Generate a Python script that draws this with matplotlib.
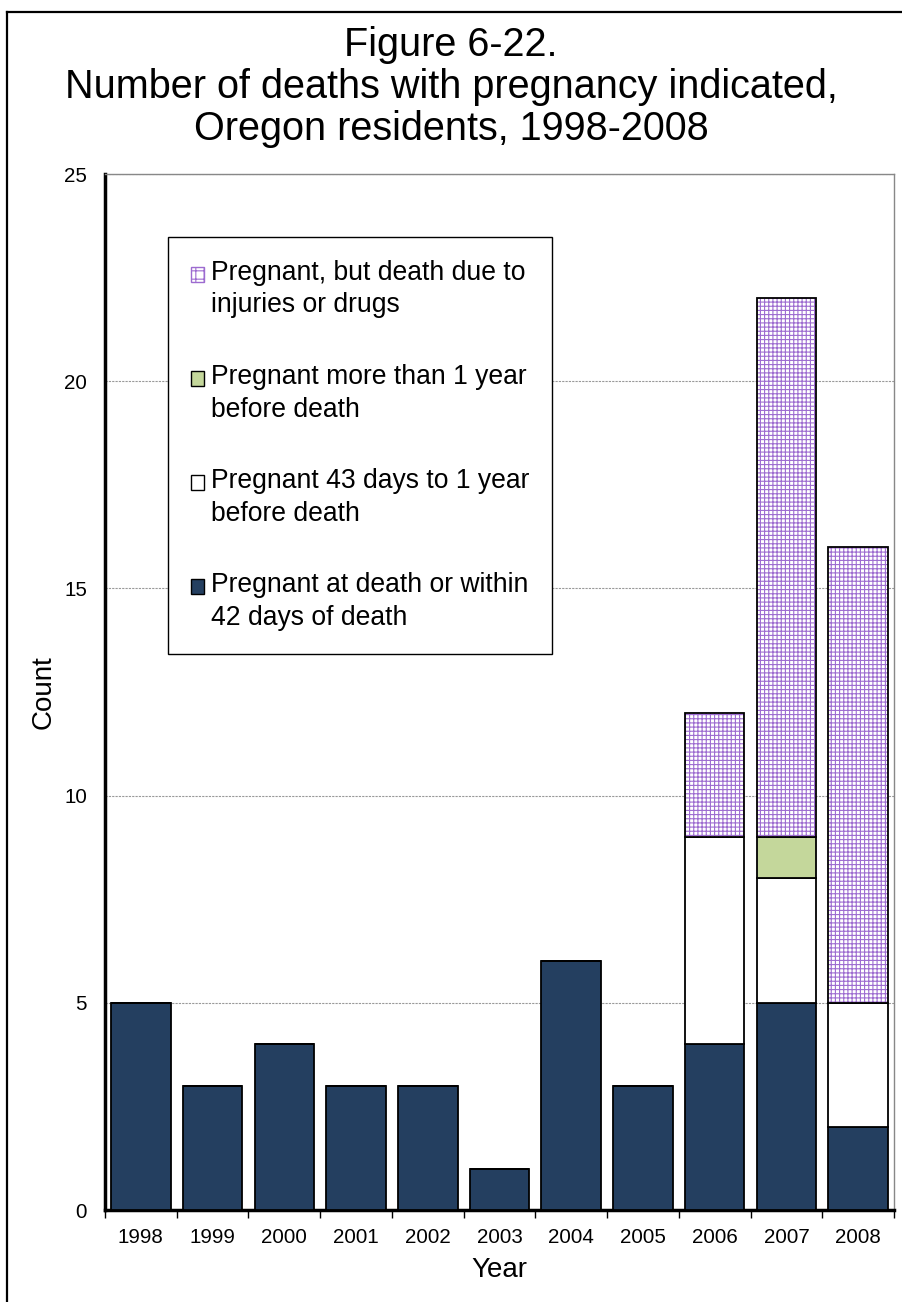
import numpy as np
import matplotlib.pyplot as plt
from matplotlib.patches import Patch, Rectangle
from matplotlib.lines import Line2D
from matplotlib.legend_handler import HandlerPatch

plt.rcParams.update(
    {
        "font.family": ["Liberation Sans", "DejaVu Sans"],
        "hatch.linewidth": 0.8,
    }
)

years = ["1998", "1999", "2000", "2001", "2002", "2003", "2004", "2005", "2006", "2007", "2008"]
within_42_days = [5, 3, 4, 3, 3, 1, 6, 3, 4, 5, 2]
days_43_to_1yr = [0, 0, 0, 0, 0, 0, 0, 0, 5, 3, 3]
more_than_1yr = [0, 0, 0, 0, 0, 0, 0, 0, 0, 1, 0]
injuries_drugs = [0, 0, 0, 0, 0, 0, 0, 0, 3, 13, 11]

labels = [
    "Pregnant at death or within\n42 days of death",
    "Pregnant 43 days to 1 year\nbefore death",
    "Pregnant more than 1 year\nbefore death",
    "Pregnant, but death due to\ninjuries or drugs",
]

navy = "#243F60"
green = "#C4D79B"
purple = "#9D6BD0"


class TopPatch(HandlerPatch):
    # legend marker sits level with the first line of a two-line label
    def __init__(self, shift, **kw):
        super().__init__(**kw)
        self.shift = shift

    def create_artists(self, legend, orig_handle, xdescent, ydescent,
                       width, height, fontsize, trans):
        p = Rectangle((-xdescent, -ydescent + self.shift), width, height)
        self.update_prop(p, orig_handle, legend)
        p.set_transform(trans)
        return [p]


fig = plt.figure(figsize=(9.02, 13.02), dpi=100)
W, H = 902, 1302
ax = fig.add_axes([105 / W, 1 - 1210 / H, (894 - 105) / W, (1210 - 174) / H])

x = np.arange(len(years))
w = 0.83
a = np.array(within_42_days)
b = np.array(days_43_to_1yr)
c = np.array(more_than_1yr)
d = np.array(injuries_drugs)

ax.bar(x, a, w, color=navy, edgecolor="black", linewidth=1.3, zorder=3)
ax.bar(x, b, w, bottom=a, color="white", edgecolor="black", linewidth=1.3, zorder=3)
ax.bar(x, c, w, bottom=a + b, color=green, edgecolor="black", linewidth=1.3, zorder=3)
# hatch layer in purple, then black outline on top
ax.bar(x, d, w, bottom=a + b + c, color="white", edgecolor=purple, hatch="++++",
       linewidth=0, zorder=3)
ax.bar(x, d, w, bottom=a + b + c, fill=False, edgecolor="black", linewidth=1.3, zorder=4)

ax.set_xlim(-0.5, len(years) - 0.5)
ax.set_ylim(0, 25)
ax.set_yticks([0, 5, 10, 15, 20, 25])
ax.set_xticks(x)
ax.set_xticklabels(years)
ax.set_xticks(np.arange(-0.5, len(years)), minor=True)
ax.tick_params(axis="x", which="major", length=0, labelsize=14.8, pad=13)
ax.tick_params(axis="x", which="minor", length=6, width=1, direction="out")
ax.tick_params(axis="y", length=0, labelsize=14.8, pad=13)
ax.yaxis.grid(True, linestyle=(0, (2, 1)), color="#999999", linewidth=0.8, zorder=0)

ax.spines["left"].set_linewidth(2.5)
ax.spines["bottom"].set_linewidth(2.5)
for s in ("top", "right"):
    ax.spines[s].set_color("#888888")
    ax.spines[s].set_linewidth(1.0)

ax.set_xlabel("Year", fontsize=20, labelpad=7)
ax.set_ylabel("Count", fontsize=20, labelpad=5)

handles = [
    Patch(facecolor="white", edgecolor=purple, hatch="++", linewidth=1.0),
    Patch(facecolor=green, edgecolor="black", linewidth=1.0),
    Patch(facecolor="white", edgecolor="black", linewidth=1.0),
    Patch(facecolor=navy, edgecolor="black", linewidth=1.0),
]
leg = ax.legend(
    handles,
    labels[::-1],
    handler_map={Patch: TopPatch(11)},
    loc="upper left",
    bbox_to_anchor=((168 - 105) / 789, (1210 - 237) / 1036),
    borderaxespad=0,
    prop={"size": 19.1},
    fancybox=False,
    framealpha=1,
    edgecolor="black",
    labelspacing=1.72,
    handlelength=0.49,
    handleheight=0.49,
    handletextpad=0.26,
    borderpad=0.87,
)
for t in leg.get_texts():
    t.set_linespacing(1.32)
leg.get_frame().set_linewidth(1.0)
leg.set_zorder(5)

fig.text(0.5, 1 - 87 / H, "Figure 6-22.\nNumber of deaths with pregnancy indicated,\nOregon residents, 1998-2008",
         ha="center", va="center", fontsize=28.5, linespacing=1.12)

# outer frame
fig.add_artist(Line2D([7 / W, 7 / W], [0, 1 - 12 / H], color="black", linewidth=1.6,
                      transform=fig.transFigure))
fig.add_artist(Line2D([7 / W, 1], [1 - 12 / H, 1 - 12 / H], color="black", linewidth=1.6,
                      transform=fig.transFigure))

fig.savefig("out.png", dpi=100)
